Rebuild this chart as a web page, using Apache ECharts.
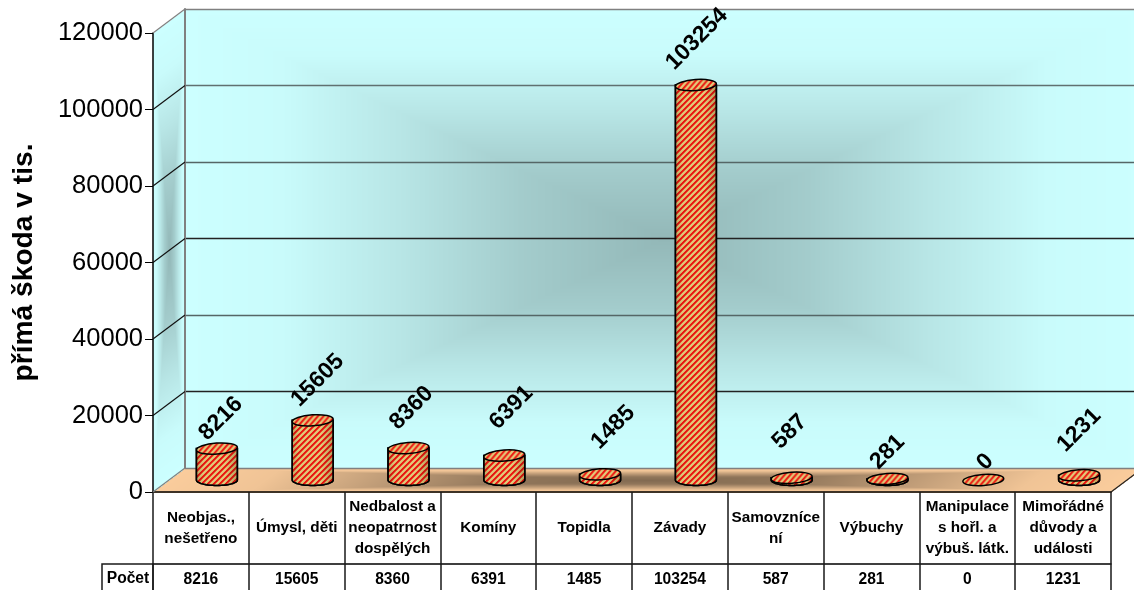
<!DOCTYPE html>
<html><head><meta charset="utf-8">
<style>html,body{margin:0;padding:0;background:#fff}#c{width:1134px;height:590px}</style>
<script src="https://cdn.jsdelivr.net/npm/echarts@6/dist/echarts.min.js"></script>
</head><body><div id="c"></div>
<script>
const categories = ["Neobjas.,\nnešetřeno","Úmysl, děti","Nedbalost a\nneopatrnost\ndospělých","Komíny","Topidla","Závady","Samovzníce\nní","Výbuchy","Manipulace\ns hořl. a\nvýbuš. látk.","Mimořádné\ndůvody a\nudálosti"];
const values = [8216,15605,8360,6391,1485,103254,587,281,0,1231];
const yTicks = [0,20000,40000,60000,80000,100000,120000];
const labelShiftX = [4,5,3,7,13,1,-2,0,2,0];
const labelRise = [30,40,40,48,47,46,46,27,18,45];

const FONT = '"Liberation Sans", Arial, sans-serif';
const FX = 153, FR = 1111, FT = 33, FB = 492, DX = 32, DY = 24;

function ramp(t, stops){
  for(let i=1;i<stops.length;i++){
    if(t<=stops[i][0]){const a=stops[i-1],b=stops[i],k=(t-a[0])/(b[0]-a[0]);return a[1]+(b[1]-a[1])*k;}
  }
  return 1;
}
const WALL=[[0,.72],[.3,.80],[.55,.90],[.8,.985],[1,1]];
const FLOOR=[[0,.52],[.3,.58],[.55,.76],[.8,.96],[1,1]];
function paintBack(){
  const cv=document.createElement('canvas');cv.width=1134;cv.height=590;
  const g=cv.getContext('2d'),im=g.createImageData(1134,590),d=im.data;
  for(let y=0;y<590;y++)for(let x=0;x<1134;x++){
    let col=null,f=1,u,v;
    if(x>=FX+DX&&y>=FT-DY&&y<=FB-DY){
      u=(x-FX-DX)/(FR-FX);v=(y-FT+DY)/(FB-FT);
      f=ramp(Math.max(Math.abs(u-.5),Math.abs(v-.5))*2,WALL);col=[204,255,255];
    } else if(x>=FX&&x<FX+DX){
      u=(x-FX)/DX;
      const yy=y+DY*u;
      v=(yy-FT)/(FB-FT);
      if(v>=0&&v<=1){f=ramp(Math.max(Math.abs(u-.5),Math.abs(v-.5))*2,WALL);col=[204,255,255];}
    }
    if(!col&&y>FB-DY&&y<=FB){
      v=(y-FB+DY)/DY;
      const xx=x-DX*(1-v);
      u=(xx-FX)/(FR-FX);
      if(u>=0&&u<=1){f=ramp(Math.max(Math.abs(u-.5),Math.abs(v-.5))*2,FLOOR);col=[250,204,156];}
    }
    const p=(y*1134+x)*4;
    if(col){d[p]=col[0]*f;d[p+1]=col[1]*f;d[p+2]=col[2]*f;d[p+3]=255;}
    else{d[p]=d[p+1]=d[p+2]=255;d[p+3]=255;}
  }
  g.putImageData(im,0,0);return cv;
}
function stripes(){
  const n=6,cv=document.createElement('canvas');cv.width=n;cv.height=n;
  const g=cv.getContext('2d');
  const im=g.createImageData(n,n),d=im.data;
  const RED=[235,24,16],TAN=[226,204,120],M1=[232,84,52],M2=[230,170,106];
  const seq=[RED,RED,M1,TAN,TAN,M2];
  for(let y=0;y<n;y++)for(let x=0;x<n;x++){
    const c=seq[(x+y)%n],p=(y*n+x)*4;
    d[p]=c[0];d[p+1]=c[1];d[p+2]=c[2];d[p+3]=255;
  }
  g.putImageData(im,0,0);return cv;
}
const stripeTile=stripes();

function renderCyl(params,api){
  const i=api.value(0),v=api.value(1);
  const top=api.coord([i,v]),base=api.coord([i,0]);
  const r=api.size([1,0])[0]*0.214,ry=5.5,x=top[0],yt=top[1],yb=base[1];
  const pts=[[x-r,yt]];
  for(let k=0;k<=28;k++){const a=Math.PI*k/28;pts.push([x-r*Math.cos(a),yb+ry*Math.sin(a)]);}
  pts.push([x+r,yt]);
  const pat={image:stripeTile,repeat:'repeat'};
  const shade={type:'linear',x:0,y:0,x2:1,y2:0,colorStops:[
    {offset:0,color:'rgba(40,20,0,.22)'},{offset:.18,color:'rgba(40,20,0,.02)'},
    {offset:.7,color:'rgba(40,20,0,0)'},{offset:1,color:'rgba(40,20,0,.26)'}]};
  const children=[
    {type:'ellipse',x:x,y:yt,rotation:.07,shape:{cx:0,cy:0,rx:r,ry:ry},style:{fill:pat,stroke:'#000',lineWidth:1.5}},
    {type:'text',x:x+labelShiftX[i],y:yt-labelRise[i],rotation:Math.PI/4,
      style:{text:String(v),x:0,y:0,align:'center',verticalAlign:'middle',fill:'#000',font:'bold 23px '+FONT}}
  ];
  if(v>0){
    children.unshift(
      {type:'polygon',shape:{points:pts},style:{fill:pat,stroke:'#000',lineWidth:1.5}},
      {type:'polygon',shape:{points:pts},style:{fill:shade,stroke:'#000',lineWidth:1.5}});
  }
  return {type:'group',children};
}
function renderDiag(params,api){
  const v=api.value(1),p=api.coord([0,v]),x0=params.coordSys.x,edge=(v===0||v===120000);
  return {type:'line',shape:{x1:x0,y1:p[1],x2:x0-DX,y2:p[1]+DY},style:{stroke:edge?'#808080':'#111',lineWidth:1.2}};
}

const chart=echarts.init(document.getElementById('c'),null,{renderer:'canvas'});
chart.setOption({
  animation:false,
  grid:[
    {left:FX,top:FT,width:FR-FX,height:FB-FT},
    {left:FX+DX/2,top:FT-DY/2,width:FR-FX,height:FB-FT},
    {left:FX+DX,top:FT-DY,width:FR-FX,height:FB-FT}
  ],
  xAxis:[
    {type:'category',gridIndex:0,data:categories,boundaryGap:true,
      axisLine:{show:true,lineStyle:{color:'#000',width:1.5}},
      axisTick:{show:true,length:72,lineStyle:{color:'#1a1a1a',width:1.5}},
      axisLabel:{interval:0,margin:36,verticalAlign:'middle',fontFamily:FONT,fontWeight:'bold',fontSize:15.3,lineHeight:21,color:'#000'}},
    {type:'category',gridIndex:0,position:'bottom',offset:72,data:values.map(String),
      axisLine:{show:true,lineStyle:{color:'#000',width:1.5}},
      axisTick:{show:true,length:28,lineStyle:{color:'#1a1a1a',width:1.5}},
      axisLabel:{interval:0,margin:8,fontFamily:FONT,fontWeight:'bold',fontSize:15.6,color:'#000'}},
    {type:'category',gridIndex:1,data:categories,show:false},
    {type:'category',gridIndex:2,data:categories,show:false}
  ],
  yAxis:[
    {type:'value',gridIndex:0,min:0,max:120000,interval:20000,
      name:'přímá škoda v tis.',nameLocation:'middle',nameGap:115,nameRotate:90,
      nameTextStyle:{fontFamily:FONT,fontWeight:'bold',fontSize:28.2,color:'#000'},
      axisLine:{show:true,lineStyle:{color:'#000',width:1.5}},
      axisTick:{show:true,length:8,lineStyle:{color:'#000',width:1}},
      splitLine:{show:false},
      axisLabel:{margin:10,fontFamily:FONT,fontSize:25.5,color:'#000',formatter:v=>String(v)}},
    {type:'value',gridIndex:1,min:0,max:120000,interval:20000,show:false,splitLine:{show:false}},
    {type:'value',gridIndex:2,min:0,max:120000,interval:20000,z:1,
      axisLabel:{show:false},axisTick:{show:false},
      axisLine:{show:true,lineStyle:{color:'#808080',width:2}},
      splitLine:{show:true,lineStyle:{color:['#808080','#222','#556666','#222','#556666','#607070','#808080'],width:1.4}}}
  ],
  graphic:{elements:[
    {type:'image',z:-10,silent:true,x:0,y:0,style:{image:paintBack(),x:0,y:0,width:1134,height:590}},
    {type:'line',z:3,shape:{x1:FR,y1:FB,x2:FR+DX,y2:FB-DY},style:{stroke:'#222',lineWidth:1.2}},
    {type:'rect',z:3,shape:{x:102,y:564,width:FX-102,height:40},style:{fill:'none',stroke:'#1a1a1a',lineWidth:1.5}},
    {type:'text',z:3,x:128,y:579,style:{text:'Počet',x:0,y:0,align:'center',verticalAlign:'middle',font:'bold 15.6px '+FONT,fill:'#000'}}
  ]},
  series:[
    {type:'custom',xAxisIndex:3,yAxisIndex:2,z:3,coordinateSystem:'cartesian2d',silent:true,clip:false,
      data:yTicks.map(v=>[0,v]),encode:{x:0,y:1},renderItem:renderDiag},
    {type:'custom',xAxisIndex:2,yAxisIndex:1,z:5,coordinateSystem:'cartesian2d',silent:true,clip:false,
      data:values.map((v,i)=>[i,v]),encode:{x:0,y:1},renderItem:renderCyl}
  ]
});
</script></body></html>
